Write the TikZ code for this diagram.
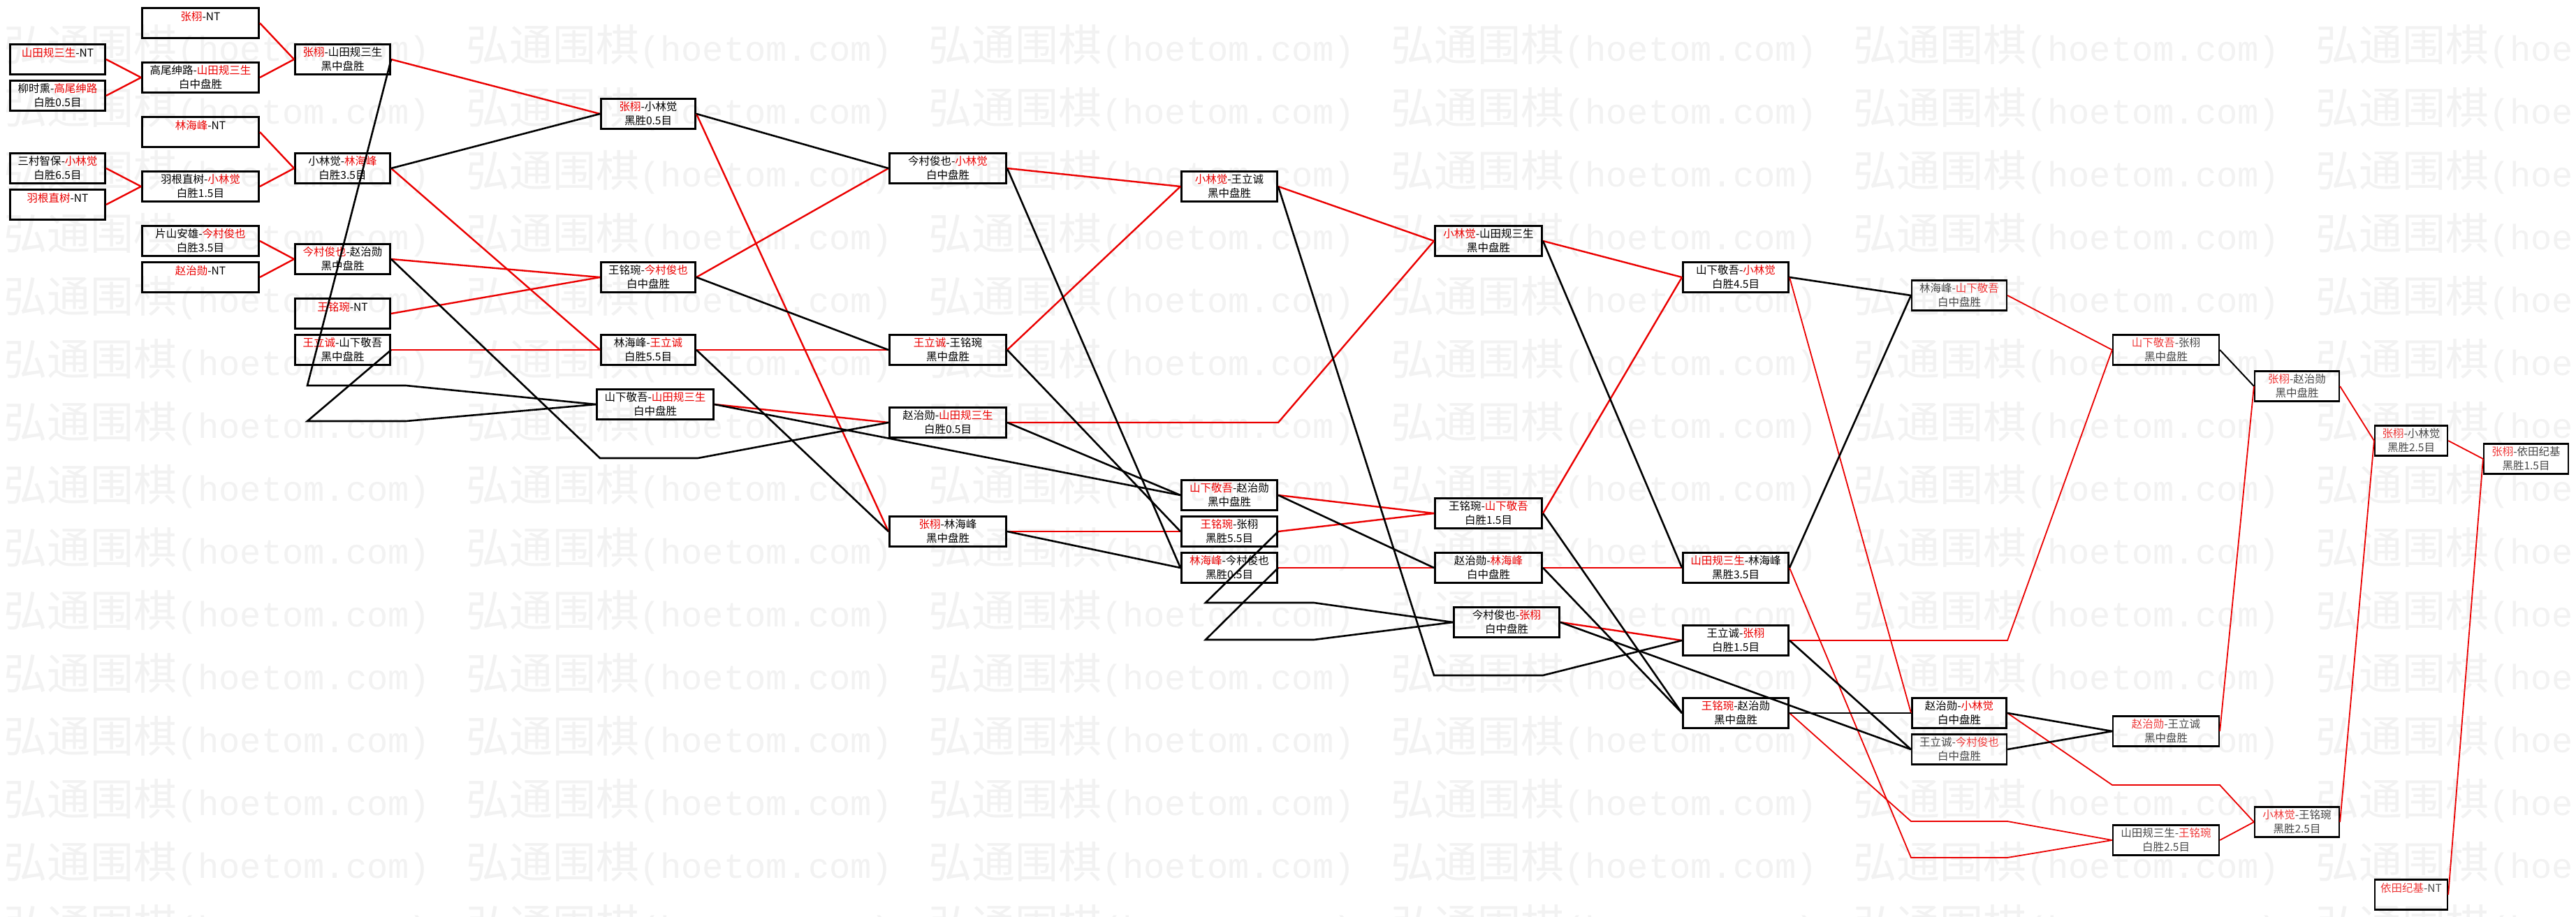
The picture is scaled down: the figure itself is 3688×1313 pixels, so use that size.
\documentclass[tikz,border=0pt]{standalone}
\usepackage{fontspec}
\usepackage{xcolor}
\newfontfamily\cjkfont{Noto Sans CJK SC}
\newfontfamily\wmfont{Liberation Mono}
\definecolor{hred}{RGB}{235,0,0}
\colorlet{wincol}{hred}
\newcommand{\wn}[1]{\textcolor{wincol}{#1}}

\begin{document}
\begin{tikzpicture}[x=1pt, y=-1pt,
    match/.style={draw, line width=3pt, inner sep=0pt, minimum width=#1, minimum height=43pt,
        align=center, font=\cjkfont\fontsize{15.5pt}{20pt}\selectfont},
    match/.default=136pt,
    pale/.style={match=#1, line width=2.2pt, text=black!72,
        execute at begin node={\colorlet{wincol}{hred!78!white}}},
    pale/.default=151pt,
    win/.style={hred, line width=2.4pt},
    winthin/.style={hred, line width=1.8pt},
    lose/.style={black, line width=2.6pt},
    losethin/.style={black, line width=2pt},
    wmark/.style={anchor=west, inner sep=0pt, text=black!5}]
\useasboundingbox (0,0) rectangle (3688,1313);
\fill[white] (0,0) rectangle (3688,1313);

% Watermark
\begin{scope}
\clip (0,0) rectangle (3688,1313);
\foreach \r in {0,...,14} {
    \foreach \c in {0,...,5} {
        \node[wmark] (wm\r-\c) at (5+662*\c, 67+90*\r)
            {{\cjkfont\fontsize{62pt}{62pt}\selectfont 弘通围棋}{\wmfont\fontsize{50.4pt}{50pt}\selectfont (hoetom.com)}};
    }
}
\end{scope}

% Round 1
\node[match] (a1) at (82.5,85) {\wn{山田规三生}-NT\\\mbox{}};
\node[match] (a2) at (82.5,137) {柳时熏-\wn{高尾绅路}\\白胜0.5目};
\node[match] (a3) at (82.5,241) {三村智保-\wn{小林觉}\\白胜6.5目};
\node[match] (a4) at (82.5,293) {\wn{羽根直树}-NT\\\mbox{}};

% Round 2
\node[match=167pt] (b1) at (287,33) {\wn{张栩}-NT\\\mbox{}};
\node[match=167pt] (b2) at (287,111) {高尾绅路-\wn{山田规三生}\\白中盘胜};
\node[match=167pt] (b3) at (287,189) {\wn{林海峰}-NT\\\mbox{}};
\node[match=167pt] (b4) at (287,267) {羽根直树-\wn{小林觉}\\白胜1.5目};
\node[match=167pt] (b5) at (287,345) {片山安雄-\wn{今村俊也}\\白胜3.5目};
\node[match=167pt] (b6) at (287,397) {\wn{赵治勋}-NT\\\mbox{}};

% Round 3
\node[match] (c1) at (490.5,85) {\wn{张栩}-山田规三生\\黑中盘胜};
\node[match] (c2) at (490.5,241) {小林觉-\wn{林海峰}\\白胜3.5目};
\node[match] (c3) at (490.5,371) {\wn{今村俊也}-赵治勋\\黑中盘胜};
\node[match] (c4) at (490.5,449) {\wn{王铭琬}-NT\\\mbox{}};
\node[match] (c5) at (490.5,501) {\wn{王立诚}-山下敬吾\\黑中盘胜};

% Round 4
\node[match=135pt] (d1) at (928,163) {\wn{张栩}-小林觉\\黑胜0.5目};
\node[match=135pt] (d2) at (928,397) {王铭琬-\wn{今村俊也}\\白中盘胜};
\node[match=135pt] (d3) at (928,501) {林海峰-\wn{王立诚}\\白胜5.5目};
\node[match=167pt] (d4) at (938,579) {山下敬吾-\wn{山田规三生}\\白中盘胜};

% Round 5
\node[match=167pt] (e1) at (1357,241) {今村俊也-\wn{小林觉}\\白中盘胜};
\node[match=167pt] (e2) at (1357,501) {\wn{王立诚}-王铭琬\\黑中盘胜};
\node[match=167pt] (e3) at (1357,605) {赵治勋-\wn{山田规三生}\\白胜0.5目};
\node[match=167pt] (e4) at (1357,761) {\wn{张栩}-林海峰\\黑中盘胜};

% Round 6
\node[match=137pt] (f1) at (1760,267) {\wn{小林觉}-王立诚\\黑中盘胜};
\node[match=137pt] (f2) at (1760,709) {\wn{山下敬吾}-赵治勋\\黑中盘胜};
\node[match=137pt] (f3) at (1760,761) {\wn{王铭琬}-张栩\\黑胜5.5目};
\node[match=137pt] (f4) at (1760,813) {\wn{林海峰}-今村俊也\\黑胜0.5目};

% Round 7
\node[match=153pt] (g1) at (2131,345) {\wn{小林觉}-山田规三生\\黑中盘胜};
\node[match=153pt] (g2) at (2131,735) {王铭琬-\wn{山下敬吾}\\白胜1.5目};
\node[match=153pt] (g3) at (2131,813) {赵治勋-\wn{林海峰}\\白中盘胜};
\node[match=151pt] (g4) at (2157,891) {今村俊也-\wn{张栩}\\白中盘胜};

% Round 8
\node[match=151pt] (h1) at (2485,397) {山下敬吾-\wn{小林觉}\\白胜4.5目};
\node[match=151pt] (h2) at (2485,813) {\wn{山田规三生}-林海峰\\黑胜3.5目};
\node[match=151pt] (h3) at (2485,917) {王立诚-\wn{张栩}\\白胜1.5目};
\node[match=151pt] (h4) at (2485,1021) {\wn{王铭琬}-赵治勋\\黑中盘胜};

% Round 9
\node[pale=136pt] (i1) at (2805,423) {林海峰-\wn{山下敬吾}\\白中盘胜};
\node[match=135pt] (i2) at (2805,1021) {赵治勋-\wn{小林觉}\\白中盘胜};
\node[pale=136pt] (i3) at (2805,1073) {王立诚-\wn{今村俊也}\\白中盘胜};

% Final rounds
\node[pale=152pt] (j1) at (3101,501) {\wn{山下敬吾}-张栩\\黑中盘胜};
\node[pale=152pt] (j2) at (3101,1047) {\wn{赵治勋}-王立诚\\黑中盘胜};
\node[pale=152pt] (j3) at (3101,1203) {山田规三生-\wn{王铭琬}\\白胜2.5目};
\node[pale=121pt] (k1) at (3288.5,553) {\wn{张栩}-赵治勋\\黑中盘胜};
\node[pale=121pt] (k2) at (3288.5,1177) {\wn{小林觉}-王铭琬\\黑胜2.5目};
\node[pale=104pt] (l1) at (3452,631) {\wn{张栩}-小林觉\\黑胜2.5目};
\node[pale=104pt] (l2) at (3452,1281) {\wn{依田纪基}-NT\\\mbox{}};
\node[pale=121pt] (m1) at (3616.5,657) {\wn{张栩}-依田纪基\\黑胜1.5目};

% Bends
\coordinate (k1a) at (440,552);   \coordinate (k1b) at (581,552);
\coordinate (k2a) at (440,603);   \coordinate (k2b) at (581,603);
\coordinate (k3a) at (859,656);   \coordinate (k3b) at (999,656);
\coordinate (k4) at (1830,605);
\coordinate (k5a) at (2053,967);  \coordinate (k5b) at (2209,967);
\coordinate (k6a) at (1726,863);  \coordinate (k6b) at (1881,863);
\coordinate (k7a) at (1726,916);  \coordinate (k7b) at (1881,916);
\coordinate (k8a) at (2736,1228); \coordinate (k8b) at (2874,1228);
\coordinate (k9) at (2874,917);
\coordinate (k10a) at (2736,1176); \coordinate (k10b) at (2874,1176);
\coordinate (k11a) at (3024,1124); \coordinate (k11b) at (3178,1124);

% Winner lines
\draw[win] (a1.east) -- (b2.west);
\draw[win] (a2.east) -- (b2.west);
\draw[win] (a3.east) -- (b4.west);
\draw[win] (a4.east) -- (b4.west);
\draw[win] (b1.east) -- (c1.west);
\draw[win] (b2.east) -- (c1.west);
\draw[win] (b3.east) -- (c2.west);
\draw[win] (b4.east) -- (c2.west);
\draw[win] (b5.east) -- (c3.west);
\draw[win] (b6.east) -- (c3.west);
\draw[win] (c1.east) -- (d1.west);
\draw[win] (c2.east) -- (d3.west);
\draw[win] (c3.east) -- (d2.west);
\draw[win] (c4.east) -- (d2.west);
\draw[win] (c5.east) -- (d3.west);
\draw[win] (d1.east) -- (e4.west);
\draw[win] (d2.east) -- (e1.west);
\draw[win] (d3.east) -- (e2.west);
\draw[win] (d4.east) -- (e3.west);
\draw[win] (e1.east) -- (f1.west);
\draw[win] (e2.east) -- (f1.west);
\draw[win] (e3.east) -- (k4) -- (g1.west);
\draw[win] (e4.east) -- (f3.west);
\draw[win] (f1.east) -- (g1.west);
\draw[win] (f2.east) -- (g2.west);
\draw[win] (f3.east) -- (g2.west);
\draw[win] (f4.east) -- (g3.west);
\draw[win] (g1.east) -- (h1.west);
\draw[win] (g2.east) -- (h1.west);
\draw[win] (g3.east) -- (h2.west);
\draw[win] (g4.east) -- (h3.west);
\draw[winthin] (h1.east) -- (i2.west);
\draw[winthin] (h2.east) -- (k8a) -- (k8b) -- (j3.west);
\draw[winthin] (h3.east) -- (k9) -- (j1.west);
\draw[winthin] (h4.east) -- (k10a) -- (k10b) -- (j3.west);
\draw[winthin] (i1.east) -- (j1.west);
\draw[winthin] (i2.east) -- (k11a) -- (k11b) -- (k2.west);
\draw[winthin] (j2.east) -- (k1.west);
\draw[winthin] (j3.east) -- (k2.west);
\draw[winthin] (k1.east) -- (l1.west);
\draw[winthin] (k2.east) -- (l1.west);
\draw[winthin] (l1.east) -- (m1.west);
\draw[winthin] (l2.east) -- (m1.west);

% Loser lines
\draw[lose] (c1.east) -- (k1a) -- (k1b) -- (d4.west);
\draw[lose] (c5.east) -- (k2a) -- (k2b) -- (d4.west);
\draw[lose] (c2.east) -- (d1.west);
\draw[lose] (c3.east) -- (k3a) -- (k3b) -- (e3.west);
\draw[lose] (d1.east) -- (e1.west);
\draw[lose] (d2.east) -- (e2.west);
\draw[lose] (d3.east) -- (e4.west);
\draw[lose] (d4.east) -- (f2.west);
\draw[lose] (e1.east) -- (f4.west);
\draw[lose] (e2.east) -- (f3.west);
\draw[lose] (e3.east) -- (f2.west);
\draw[lose] (e4.east) -- (f4.west);
\draw[lose] (f1.east) -- (k5a) -- (k5b) -- (h3.west);
\draw[lose] (f2.east) -- (g3.west);
\draw[lose] (f3.east) -- (k6a) -- (k6b) -- (g4.west);
\draw[lose] (f4.east) -- (k7a) -- (k7b) -- (g4.west);
\draw[lose] (g1.east) -- (h2.west);
\draw[lose] (g2.east) -- (h4.west);
\draw[lose] (g3.east) -- (h4.west);
\draw[lose] (g4.east) -- (i3.west);
\draw[lose] (h1.east) -- (i1.west);
\draw[lose] (h2.east) -- (i1.west);
\draw[lose] (h3.east) -- (i3.west);
\draw[lose] (h4.east) -- (i2.west);
\draw[lose] (i2.east) -- (j2.west);
\draw[lose] (i3.east) -- (j2.west);
\draw[losethin] (j1.east) -- (k1.west);
\end{tikzpicture}
\end{document}
